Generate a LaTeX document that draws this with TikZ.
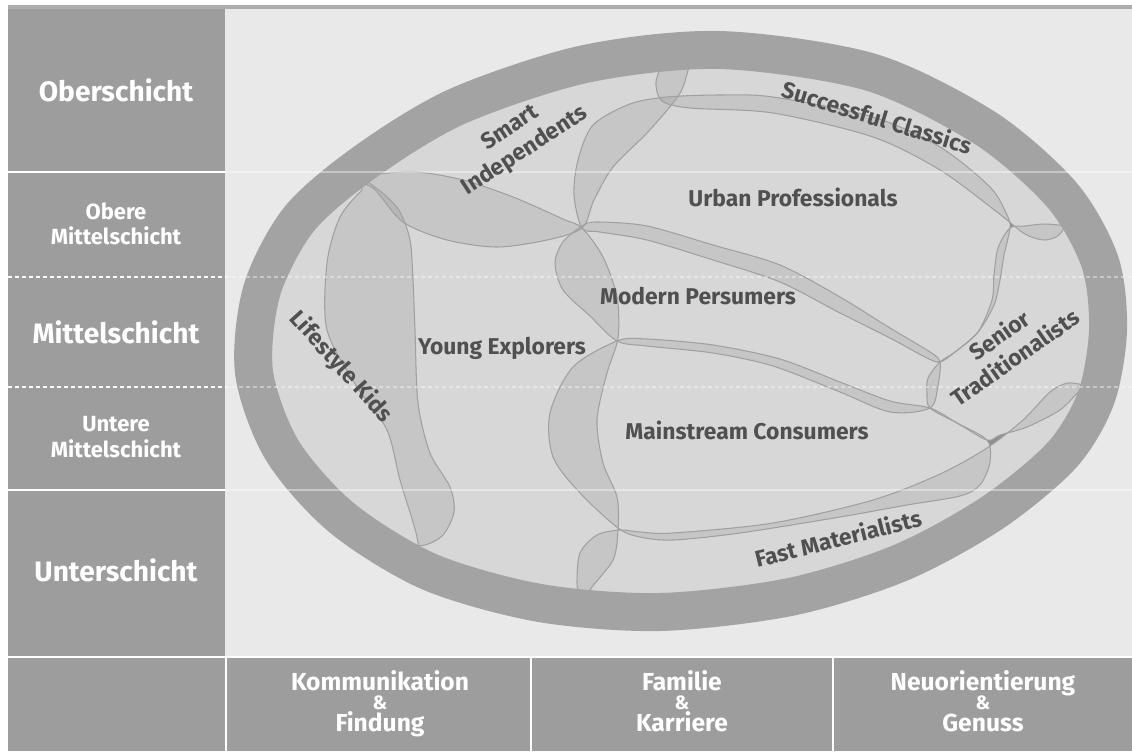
\documentclass[tikz,border=0pt]{standalone}
\usepackage{fontspec}
\setmainfont{Fira Sans}
\usetikzlibrary{calc}
\usetikzlibrary{positioning}

\definecolor{colgray}{HTML}{9D9D9D}
\definecolor{ringgray}{HTML}{A3A3A3}
\definecolor{innerdark}{HTML}{8E8E8E}
\definecolor{lightbg}{HTML}{E9E9E9}
\definecolor{blobbase}{HTML}{E9E9E9}
\definecolor{blobline}{HTML}{A0A0A0}
\definecolor{labeltext}{HTML}{505050}
\definecolor{topline}{HTML}{ADADAD}

\begin{document}
\begin{tikzpicture}[x=0.02cm, y=-0.02cm,
        classlabel/.style={text=white, font=\bfseries\fontsize{16}{18}\selectfont},
        smallclass/.style={text=white, font=\bfseries\fontsize{12.5}{14.5}\selectfont, align=center},
        axislabel/.style={text=white, font=\bfseries\fontsize{14}{16}\selectfont, anchor=base},
        amplabel/.style={text=white, font=\bfseries\fontsize{11}{12}\selectfont, anchor=base},
        seglabel/.style={text=labeltext, font=\bfseries\fontsize{13}{15.5}\selectfont, align=center},
        blobshade/.style={fill=black, fill opacity=0.075},
        blobedge/.style={draw=blobline, line width=0.6pt},
        solidrow/.style={white, line width=0.05cm},
        dashrow/.style={white, line width=0.05cm, dash pattern=on 0.08cm off 0.06cm},
        faint/.style={opacity=0.4}]

        \useasboundingbox (0,0) rectangle (1132,751);

        % ring midline and segments
        \def\ringpath{plot[smooth cycle] coordinates {(720,50) (870,72) (985,128) (1062,195) (1100,262) (1108,330) (1096,398) (1062,455) (992,513) (900,563) (790,597) (660,612) (540,603) (430,572) (342,518) (282,450) (254,372) (262,290) (300,218) (368,160) (458,106) (585,64)}}
        \def\pathLK{plot[smooth] coordinates {(365,180) (385,195) (400,212) (410,240) (413,280) (415,330) (418,403) (430,453) (450,487) (454,512) (443,535) (425,545) (405,545)} -- (340,600) -- (200,400) -- (300,150) -- cycle}
        \def\pathYE{plot[smooth] coordinates {(360,178) (377,174) (417,172) (463,180) (513,197) (563,219) (582,228) (603,257) (617,297) (618,338) (607,373) (597,420) (603,463) (617,497) (618,530) (613,560) (590,590) (580,615)} -- (420,600) -- plot[smooth] coordinates {(420,575) (417,537) (400,480) (387,430) (357,387) (327,330) (327,263) (340,217) (362,190)} -- cycle}
        \def\pathSI{plot[smooth] coordinates {(352,182) (373,188) (403,222) (447,240) (497,247) (547,240) (582,228) (594,200) (613,167) (647,133) (673,103) (683,87) (692,55)} -- (700,10) -- (330,10) -- (320,175) -- cycle}
        \def\pathUP{plot[smooth cycle] coordinates {(582,228) (574,195) (578,160) (593,125) (630,104) (667,97) (720,95) (773,97) (873,117) (940,147) (990,187) (1007,215) (1010,228) (1004,255) (1000,280) (994,305) (978,332) (955,352) (940,362) (925,357) (890,338) (840,313) (780,282) (713,260) (647,240) (600,232)}}
        \def\pathSC{plot[smooth] coordinates {(664,60) (656,82) (662,101) (690,108) (773,113) (873,137) (940,170) (997,212) (1025,234) (1045,240) (1060,234) (1070,215)} -- (1150,150) -- (900,10) -- (680,10) -- cycle}
        \def\pathMP{plot[smooth cycle] coordinates {(582,226) (597,222) (647,226) (713,245) (780,265) (840,297) (890,328) (930,352) (940,362) (938,385) (930,408) (890,412) (840,392) (773,366) (713,353) (647,346) (617,341) (590,316) (563,290) (555,263) (563,242)}}
        \def\pathMC{plot[smooth cycle] coordinates {(617,341) (647,339) (713,345) (780,359) (840,382) (890,401) (930,408) (957,423) (987,440) (990,462) (980,485) (960,496) (907,505) (840,517) (740,533) (673,540) (640,537) (618,528) (580,493) (553,457) (550,413) (573,367)}}
        \def\pathST{plot[smooth] coordinates {(1078,392) (1060,410) (1027,427) (1000,435) (987,440) (957,423) (930,408) (927,393) (928,378) (940,362) (955,352) (978,332) (992,300) (994,275) (998,248) (1010,228) (1025,226) (1045,224) (1068,226)} -- (1150,200) -- (1160,420) -- cycle}
        \def\pathFM{plot[smooth] coordinates {(580,600) (577,583) (580,553) (597,535) (620,530) (640,532) (673,533) (773,523) (873,500) (940,474) (987,448) (1023,420) (1050,392) (1068,383) (1088,386)} -- (1200,400) -- (900,700) -- (580,700) -- cycle}

        % background
        \fill[white] (0,0) rectangle (1132,751);
        \fill[topline] (8,5) rectangle (1132,9);
        \fill[lightbg] (225,9) rectangle (1132,656);
        \fill[colgray] (8,9) rectangle (225,656);
        \fill[colgray] (8,658) rectangle (1132,751);

        % ellipse
        \fill[innerdark] \ringpath;
        \begin{scope}
            \clip \ringpath;
            \foreach \p in {\pathLK,\pathYE,\pathSI,\pathUP,\pathSC,\pathMP,\pathMC,\pathST,\pathFM}
                \fill[blobbase] \p;
            \foreach \p in {\pathLK,\pathYE,\pathSI,\pathUP,\pathSC,\pathMP,\pathMC,\pathST,\pathFM}
                \fill[blobshade] \p;
            \foreach \p in {\pathLK,\pathYE,\pathSI,\pathUP,\pathSC,\pathMP,\pathMC,\pathST,\pathFM}
                \draw[blobedge] \p;
        \end{scope}
        \draw[ringgray, line width=0.76cm] \ringpath;

        % rows
        \draw[solidrow] (8,172) -- (225,172);
        \draw[solidrow] (8,490) -- (225,490);
        \draw[dashrow] (8,277) -- (225,277);
        \draw[dashrow] (8,387) -- (225,387);
        \draw[solidrow, faint] (225,172) -- (1132,172);
        \draw[solidrow, faint] (225,490) -- (1132,490);
        \draw[dashrow, faint] (225,277) -- (1132,277);
        \draw[dashrow, faint] (225,387) -- (1132,387);
        \draw[solidrow] (8,657) -- (1132,657);

        % columns
        \foreach \x in {226,531,833}
            \draw[solidrow] (\x,657) -- (\x,751);

        % class labels
        \node[classlabel] (ober) at (116,90) {Oberschicht};
        \node[smallclass] (obere) at (116,224) {Obere\\Mittelschicht};
        \node[classlabel] (mittel) at (116,332) {Mittelschicht};
        \node[smallclass] (untere) at (116,437) {Untere\\Mittelschicht};
        \node[classlabel] (unter) at (116,570) {Unterschicht};

        % axis labels
        \foreach \x/\a/\b/\n in {380/Kommunikation/Findung/komm, 682/Familie/Karriere/fam, 983/Neuorientierung/Genuss/neu}
        {
            \node[axislabel] (\n top) at (\x,690) {\a};
            \node[amplabel] (\n amp) at (\x,709) {\&};
            \node[axislabel] (\n bot) at (\x,731) {\b};
        }

        % segment labels
        \node[seglabel, rotate=33] (smart) at (518,140) {Smart\\Independents};
        \node[seglabel, rotate=-17] (classics) at (877,117) {Successful Classics};
        \node[seglabel] (urban) at (793,197) {Urban Professionals};
        \node[seglabel] (modern) at (698,296) {Modern Persumers};
        \node[seglabel] (young) at (502,348) {Young Explorers};
        \node[seglabel] (mainstream) at (747,430) {Mainstream Consumers};
        \node[seglabel, rotate=-48] (lifestyle) at (341,367) {Lifestyle Kids};
        \node[seglabel, rotate=35] (senior) at (1007,346) {Senior\\Traditionalists};
        \node[seglabel, rotate=14] (fast) at (838,538) {Fast Materialists};

\end{tikzpicture}
\end{document}
